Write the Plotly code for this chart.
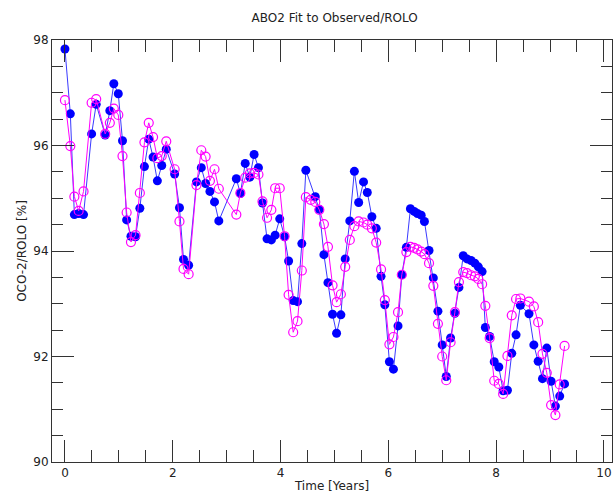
import plotly.graph_objects as go

time_years = [0.00, 0.10, 0.175, 0.255, 0.345, 0.495, 0.58, 0.747, 0.833, 0.907,
              0.99, 1.068, 1.145, 1.225, 1.31, 1.39, 1.475, 1.555, 1.635, 1.715,
              1.796, 1.88, 2.035, 2.125, 2.20, 2.295, 2.44, 2.53, 2.61, 2.69,
              2.775, 2.855, 3.18, 3.255, 3.345, 3.43, 3.51, 3.59, 3.665, 3.75,
              3.83, 3.90, 3.985, 4.075, 4.15, 4.235, 4.315, 4.395, 4.47, 4.56,
              4.645, 4.72, 4.805, 4.88, 4.965, 5.04, 5.12, 5.20, 5.285, 5.37,
              5.45, 5.54, 5.61, 5.695, 5.775, 5.865, 5.935, 6.02, 6.095, 6.18,
              6.25, 6.335, 6.41, 6.48, 6.54, 6.61, 6.67, 6.755, 6.835, 6.92,
              7.00, 7.075, 7.155, 7.235, 7.31, 7.39, 7.46, 7.535, 7.605, 7.67,
              7.74, 7.80, 7.88, 7.965, 8.05, 8.13, 8.21, 8.29, 8.37, 8.45,
              8.61, 8.70, 8.78, 8.86, 8.94, 9.02, 9.10, 9.18, 9.27]

observed = [97.83, 96.60, 94.69, 94.71, 94.69, 96.22, 96.78, 96.20, 96.66, 97.17,
            96.98, 96.09, 94.59, 94.28, 94.27, 94.81, 95.60, 96.12, 95.78, 95.33,
            95.62, 95.93, 95.46, 94.82, 93.84, 93.73, 95.31, 95.58, 95.28, 95.13,
            94.93, 94.57, 95.37, 95.09, 95.66, 95.40, 95.83, 95.58, 94.91, 94.23,
            94.21, 94.30, 94.61, 94.27, 93.81, 93.06, 93.04, 94.14, 95.53, None,
            95.03, 94.79, 93.93, 93.40, 92.80, 92.44, 92.79, 93.85, 94.57, 95.51,
            94.92, 95.31, 95.11, 94.65, 94.43, 93.52, 92.98, 91.90, 91.76, 92.58,
            93.55, 94.07, 94.80, 94.75, 94.71, 94.68, 94.56, 94.01, 93.49, 92.86,
            92.22, 91.62, 92.35, 92.82, 93.31, 93.91, 93.85, 93.82, 93.77, 93.70,
            93.61, 92.55, 92.38, 91.90, 91.80, 91.35, 91.36, 92.06, 92.41, 92.97,
            92.81, 92.22, 91.91, 91.58, 92.16, 91.53, 91.06, 91.25, 91.48]

abo2_fit = [96.86, 95.99, 95.03, 94.76, 95.13, 96.81, 96.88, 96.22, 96.43, 96.70,
            96.58, 95.80, 94.73, 94.17, 94.30, 95.10, 96.06, 96.43, 96.16, 95.76,
            95.80, 96.08, 95.55, 94.56, 93.66, 93.56, 95.25, 95.91, 95.79, 95.33,
            95.55, 95.18, 94.69, 95.10, 95.39, 95.47, 95.48, 95.45, 94.94, 94.63,
            94.78, 95.19, 95.19, 94.28, 93.17, 92.46, 92.67, 93.63, 95.02, 94.97,
            94.93, 94.78, 94.51, 94.08, 93.35, 93.03, 93.18, 93.70, 94.21, 94.47,
            94.56, 94.54, 94.50, 94.43, 94.16, 93.65, 93.07, 92.23, 92.37, 92.84,
            93.55, 93.98, 94.08, 94.06, 94.03, 93.99, 93.94, 93.77, 93.34, 92.62,
            92.00, 91.55, 92.27, 92.84, 93.41, 93.60, 93.58, 93.54, 93.52, 93.47,
            93.37, 92.96, 92.35, 91.54, 91.48, 91.29, 92.01, 92.78, 93.09, 93.10,
            93.04, 92.95, 92.65, 92.05, 91.69, 91.08, 90.89, 91.47, 92.20]

x_tick_vals = [0, 2, 4, 6, 8, 10]
y_tick_vals = [90, 92, 94, 96, 98]

fig = go.Figure()
fig.add_trace(go.Scatter(
    x=time_years, y=observed, mode="lines+markers", connectgaps=True,
    line=dict(color="#3a3aff", width=1),
    marker=dict(color="#0000ff", size=9, symbol="circle"),
    showlegend=False))
fig.add_trace(go.Scatter(
    x=time_years, y=abo2_fit, mode="lines+markers",
    line=dict(color="#ff00ff", width=1),
    marker=dict(color="#ff00ff", size=9, symbol="circle-open",
                line=dict(color="#ff00ff", width=1.2)),
    showlegend=False))

font = dict(family="DejaVu Sans", size=12, color="#222222")
axis_common = dict(
    showgrid=False, zeroline=False, showline=True, linecolor="#333333",
    linewidth=1, mirror="allticks", ticks="inside", tickcolor="#333333",
    ticklen=22, tickwidth=1, tickfont=font,
)
fig.update_xaxes(
    range=[-0.24, 10.15], tickvals=x_tick_vals,
    ticktext=[str(v) for v in x_tick_vals],
    title=dict(text="Time [Years]", font=font, standoff=2),
    minor=dict(dtick=0.5, tick0=0, ticks="inside", ticklen=12,
               tickcolor="#333333", tickwidth=1, showgrid=False),
    **axis_common)
fig.update_yaxes(
    range=[90, 98], tickvals=y_tick_vals,
    ticktext=[str(v) for v in y_tick_vals],
    title=dict(text="OCO-2/ROLO [%]", font=font, standoff=4),
    minor=dict(dtick=0.5, tick0=90, ticks="inside", ticklen=11,
               tickcolor="#333333", tickwidth=1, showgrid=False),
    **axis_common)

fig.update_layout(
    width=614, height=495,
    margin=dict(l=52, r=2, t=40, b=33),
    paper_bgcolor="white", plot_bgcolor="white",
    title=dict(text="ABO2 Fit to Observed/ROLO", x=0.545, xanchor="center",
               y=0.965, yanchor="middle", font=font),
    font=font,
)
fig.write_html("out.html")
